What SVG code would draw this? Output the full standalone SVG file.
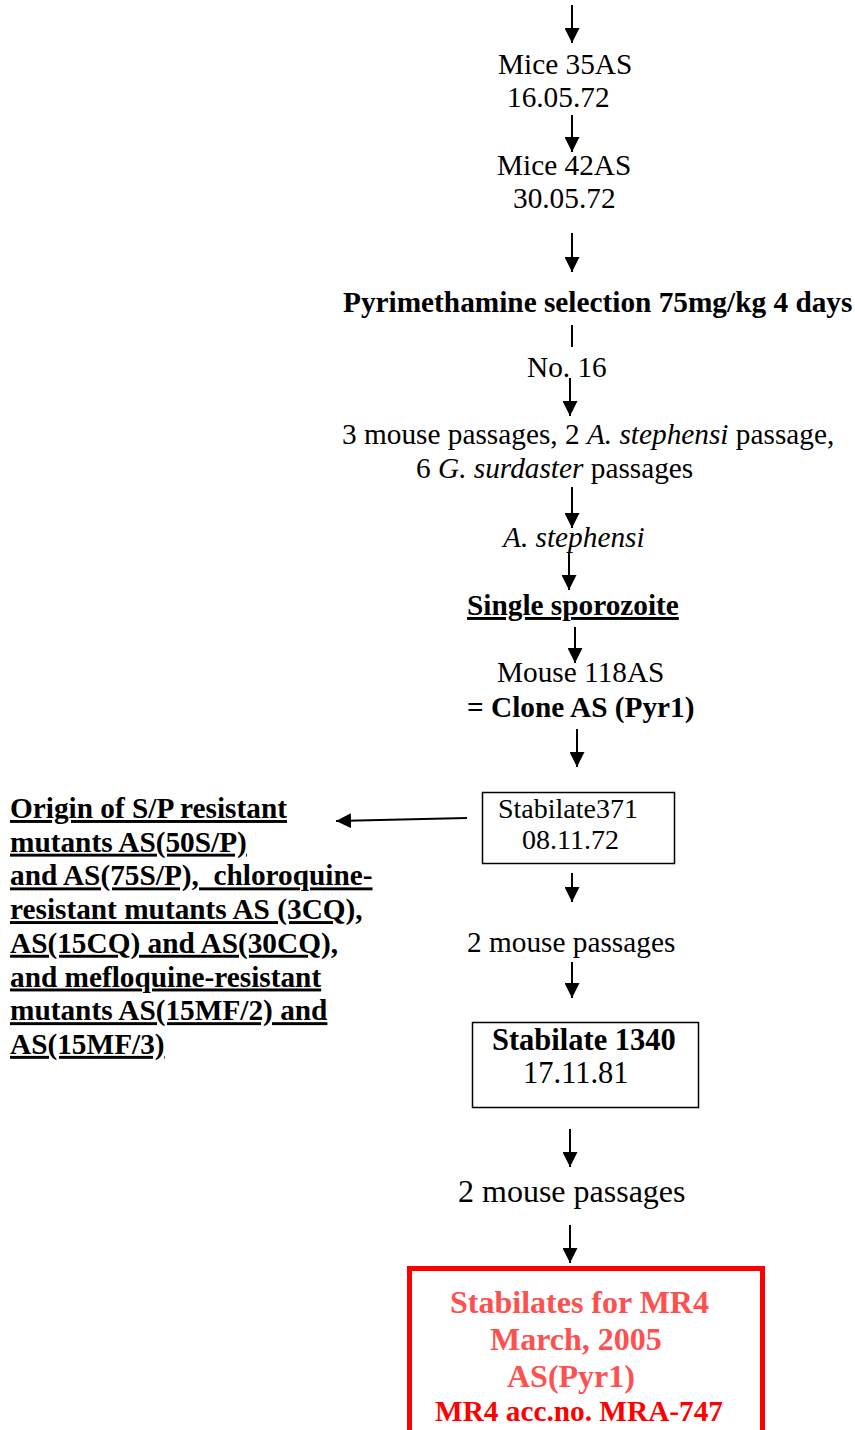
<svg xmlns="http://www.w3.org/2000/svg" width="855" height="1430" viewBox="0 0 855 1430">
<defs>
<marker id="ah" markerUnits="userSpaceOnUse" markerWidth="15" markerHeight="15" refX="15" refY="7.5" orient="auto">
<path d="M0,0 L15,7.5 L0,15 Z" fill="#000"/>
</marker>
<style>
text{font-family:"Liberation Serif","Times New Roman",serif;font-size:29.3px;fill:#000}
.b{font-weight:bold}
.i{font-style:italic}
.u{text-decoration:underline}
.conn line{stroke:#000;stroke-width:2;fill:none}
.box{fill:none;stroke:#000;stroke-width:1.5}
.rt{fill:#FF5050;font-weight:bold;font-size:32px}
</style>
</defs>
<rect width="855" height="1430" fill="#fff"/>
<g class="conn">
<line x1="572" y1="5" x2="572" y2="43" marker-end="url(#ah)"/>
<line x1="572" y1="115" x2="572" y2="152" marker-end="url(#ah)"/>
<line x1="572" y1="233" x2="572" y2="272" marker-end="url(#ah)"/>
<line x1="572" y1="325" x2="572" y2="347"/>
<line x1="570" y1="378" x2="570" y2="416" marker-end="url(#ah)"/>
<line x1="572" y1="487" x2="572" y2="528" marker-end="url(#ah)"/>
<line x1="569" y1="552" x2="569" y2="590" marker-end="url(#ah)"/>
<line x1="575" y1="627" x2="575" y2="663" marker-end="url(#ah)"/>
<line x1="577" y1="729" x2="577" y2="767" marker-end="url(#ah)"/>
<line x1="467" y1="818" x2="336" y2="821" marker-end="url(#ah)"/>
<line x1="572" y1="873" x2="572" y2="902" marker-end="url(#ah)"/>
<line x1="572" y1="962" x2="572" y2="998" marker-end="url(#ah)"/>
<line x1="570" y1="1129" x2="570" y2="1167" marker-end="url(#ah)"/>
<line x1="570" y1="1225" x2="570" y2="1263" marker-end="url(#ah)"/>
</g>
<g id="mice35"><text x="498" y="74">Mice 35AS</text><text x="507" y="107">16.05.72</text></g>
<g id="mice42"><text x="497" y="175">Mice 42AS</text><text x="513" y="208">30.05.72</text></g>
<g id="pyr"><text class="b" x="343" y="312">Pyrimethamine selection 75mg/kg 4 days</text></g>
<g id="no16"><text x="527" y="377">No. 16</text></g>
<g id="passages1"><text x="342" y="444">3 mouse passages, 2 <tspan class="i">A. stephensi</tspan> passage,</text><text x="416" y="478">6 <tspan class="i">G. surdaster</tspan> passages</text></g>
<g id="astephensi"><text class="i" x="503" y="547">A. stephensi</text></g>
<g id="sporozoite"><text class="b u" x="467" y="615">Single sporozoite</text></g>
<g id="mouse118"><text x="497" y="682">Mouse 118AS</text><text class="b" x="467" y="717">= Clone AS (Pyr1)</text></g>
<g id="stab371"><rect class="box" x="482.5" y="792.5" width="192" height="71"/><text x="498" y="818" style="font-size:28px">Stabilate371</text><text x="522" y="849" style="font-size:28px">08.11.72</text></g>
<g id="origin">
<text class="b u" x="10" y="818">Origin of S/P resistant</text>
<text class="b u" x="10" y="851.7">mutants AS(50S/P)</text>
<text class="b u" x="10" y="885.4" style="white-space:pre">and AS(75S/P),  chloroquine-</text>
<text class="b u" x="10" y="919.1">resistant mutants AS (3CQ),</text>
<text class="b u" x="10" y="952.8">AS(15CQ) and AS(30CQ),</text>
<text class="b u" x="10" y="986.5">and mefloquine-resistant</text>
<text class="b u" x="10" y="1020.2">mutants AS(15MF/2) and</text>
<text class="b u" x="10" y="1053.9">AS(15MF/3)</text>
</g>
<g id="passages2"><text x="467" y="952">2 mouse passages</text></g>
<g id="stab1340"><rect class="box" x="472.5" y="1022.5" width="226" height="85"/><text class="b" x="492" y="1050" style="font-size:30.5px">Stabilate 1340</text><text x="523" y="1083" style="font-size:30.5px">17.11.81</text></g>
<g id="passages3"><text x="458" y="1202" style="font-size:32px">2 mouse passages</text></g>
<g id="mr4">
<rect x="409.5" y="1268.5" width="353" height="220" fill="none" stroke="#FF0000" stroke-width="5"/>
<text class="rt" x="450" y="1313">Stabilates for MR4</text>
<text class="rt" x="490" y="1350">March, 2005</text>
<text class="rt" x="507" y="1387">AS(Pyr1)</text>
<text class="b" x="435" y="1421" style="fill:#FF0000">MR4 acc.no. MRA-747</text>
</g>
</svg>
